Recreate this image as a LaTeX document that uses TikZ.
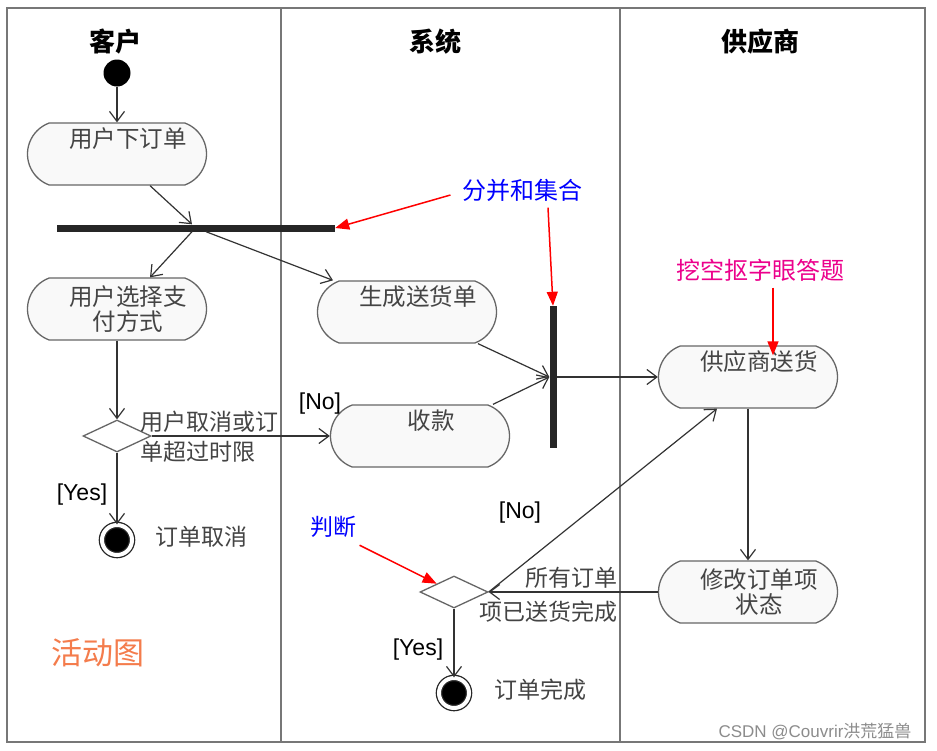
\documentclass[tikz,border=0pt]{standalone}
\usepackage{fontspec}
\setmainfont{Noto Sans CJK SC}
\newfontfamily\latfont{Liberation Sans}
\newfontfamily\cjkfont{Noto Sans CJK SC}
\usepackage{tikz}
\usetikzlibrary{arrows.meta,shapes.geometric,shapes.misc}
\definecolor{linegray}{HTML}{333333}
\definecolor{boxgray}{HTML}{666666}
\definecolor{boxfill}{HTML}{F9F9F9}
\definecolor{txtgray}{HTML}{444444}
\definecolor{framegray}{HTML}{777777}
\definecolor{orangetitle}{HTML}{F47C4C}
\newcommand{\acttxt}{\hspace*{22pt}}
\begin{document}
\begin{tikzpicture}[x=1pt,y=-1pt,
	act/.style={rounded rectangle, rounded rectangle arc length=140, draw=boxgray, line width=1.3pt, fill=boxfill, minimum width=179pt, minimum height=62pt, text=txtgray, font=\fontsize{23.5}{25}\selectfont, align=center, inner sep=0pt},
	actone/.style={act, text height=16pt, text depth=29pt},
	bar/.style={fill=black!85, inner sep=0pt},
	choice/.style={diamond, draw=boxgray, line width=1.3pt, fill=white, minimum width=68pt, minimum height=32pt, inner sep=0pt},
	finish/.style={circle, fill=black, draw=black!85, line width=1.3pt, double=white, double distance=4pt, minimum size=30pt, inner sep=0pt},
	flow/.style={draw=linegray, line width=1.2pt, -{Straight Barb[length=10pt,width=15pt]}},
	note/.style={draw=red, line width=1.5pt, -{Triangle[length=14pt,width=11pt]}},
	guard/.style={font=\latfont\fontsize{23}{26}\selectfont, text=black},
	lbl/.style={text=txtgray, font=\fontsize{23}{25}\selectfont, inner sep=0pt},
	lane/.style={font=\bfseries\fontsize{26}{30}\selectfont, text=black}
	]
	\useasboundingbox (0,0) rectangle (937,750);
	\fill[white] (0,0) rectangle (937,750);
	\draw[framegray, line width=1.5pt] (7,8) rectangle (925,742);
	\draw[framegray, line width=1.5pt] (281,8) -- (281,742);
	\draw[framegray, line width=1.5pt] (620,8) -- (620,742);
	\node[lane] (customer) at (115,42) {客户};
	\node[lane] (system) at (435,42) {系统};
	\node[lane] (supplier) at (760,42) {供应商};

	\node[circle, fill=black, minimum size=27pt, inner sep=0pt] (start) at (117,73) {};
	\node[actone] (order) at (117,154) {\acttxt 用户下订单};
	\node[bar, minimum width=278pt, minimum height=7pt] (fork) at (196,228) {};
	\node[act] (pay) at (117,309) {\acttxt 用户选择支\\\acttxt 付方式};
	\node[actone] (ship) at (407,312) {\acttxt 生成送货单};
	\node[choice] (dec1) at (117,436) {};
	\node[actone] (collect) at (420,436) {\acttxt 收款};
	\node[finish] (end1) at (117,540) {};
	\node[bar, minimum width=7pt, minimum height=142pt] (join) at (553,377) {};
	\node[actone] (deliver) at (748,377) {\acttxt 供应商送货};
	\node[act] (modify) at (748,592) {\acttxt 修改订单项\\\acttxt 状态};
	\node[choice] (dec2) at (454,592) {};
	\node[finish] (end2) at (454,693) {};

	\draw[flow] (start) -- (order.north);
	\draw[flow] ([xshift=33pt]order.south) -- ([xshift=-4pt]fork.north);
	\draw[flow] ([xshift=-4pt]fork.south) -- ([xshift=33pt]pay.north);
	\draw[flow] ([xshift=10pt]fork.south) -- ([xshift=-74pt]ship.north);
	\draw[flow] (pay.south) -- (dec1.north);
	\draw[flow] (dec1.east) -- (collect.west);
	\draw[flow] (dec1.south) -- (end1.north);
	\draw[flow] ([xshift=71pt]ship.south) -- (join.west);
	\draw[flow] ([xshift=73pt]collect.north) -- (join.west);
	\draw[flow] (join.east) -- (deliver.west);
	\draw[flow] (deliver.south) -- (modify.north);
	\draw[flow] (modify.west) -- (dec2.east);
	\draw[flow] (dec2.east) -- ([xshift=-31pt]deliver.south);
	\draw[flow] (dec2.south) -- (end2.north);

	\node[lbl, anchor=west, align=left, font=\fontsize{23}{30}\selectfont] (cancelcond) at (140,437) {用户取消或订\\单超过时限};
	\node[guard] (no1) at (320,404) {[No]};
	\node[guard] (yes1) at (82,495) {[Yes]};
	\node[lbl, anchor=west] (cancel) at (155,537) {订单取消};
	\node[lbl, anchor=east, align=right, font=\fontsize{23}{34}\selectfont] (donecond) at (618,595) {所有订单\\项已送货完成};
	\node[guard] (no2) at (520,513) {[No]};
	\node[guard] (yes2) at (418,650) {[Yes]};
	\node[lbl, anchor=west] (done) at (494,690) {订单完成};

	\node[text=blue, font=\fontsize{24}{28}\selectfont] (forknote) at (522,190) {分并和集合};
	\node[text=magenta, font=\fontsize{24}{28}\selectfont] (keynote) at (760,270) {挖空抠字眼答题};
	\node[text=blue, font=\fontsize{23}{27}\selectfont] (decnote) at (333,527) {判断};
	\node[text=orangetitle, font=\fontsize{31}{36}\selectfont] (title) at (98,653) {活动图};
	\node[text=black!45, font=\fontsize{17}{20}\selectfont] (mark) at (815,731) {{\latfont CSDN @Couvrir}{\cjkfont 洪荒猛兽}};

	\draw[note] ([xshift=-8pt,yshift=-5pt]forknote.west) -- (fork.east);
	\draw[note] ([xshift=26pt,yshift=-3pt]forknote.south) -- (join.north);
	\draw[note] ([xshift=13pt,yshift=-3pt]keynote.south) -- ([xshift=25pt,yshift=-10pt]deliver.north);
	\draw[note] ([yshift=-4pt]decnote.south east) -- (dec2.north west);
\end{tikzpicture}
\end{document}
